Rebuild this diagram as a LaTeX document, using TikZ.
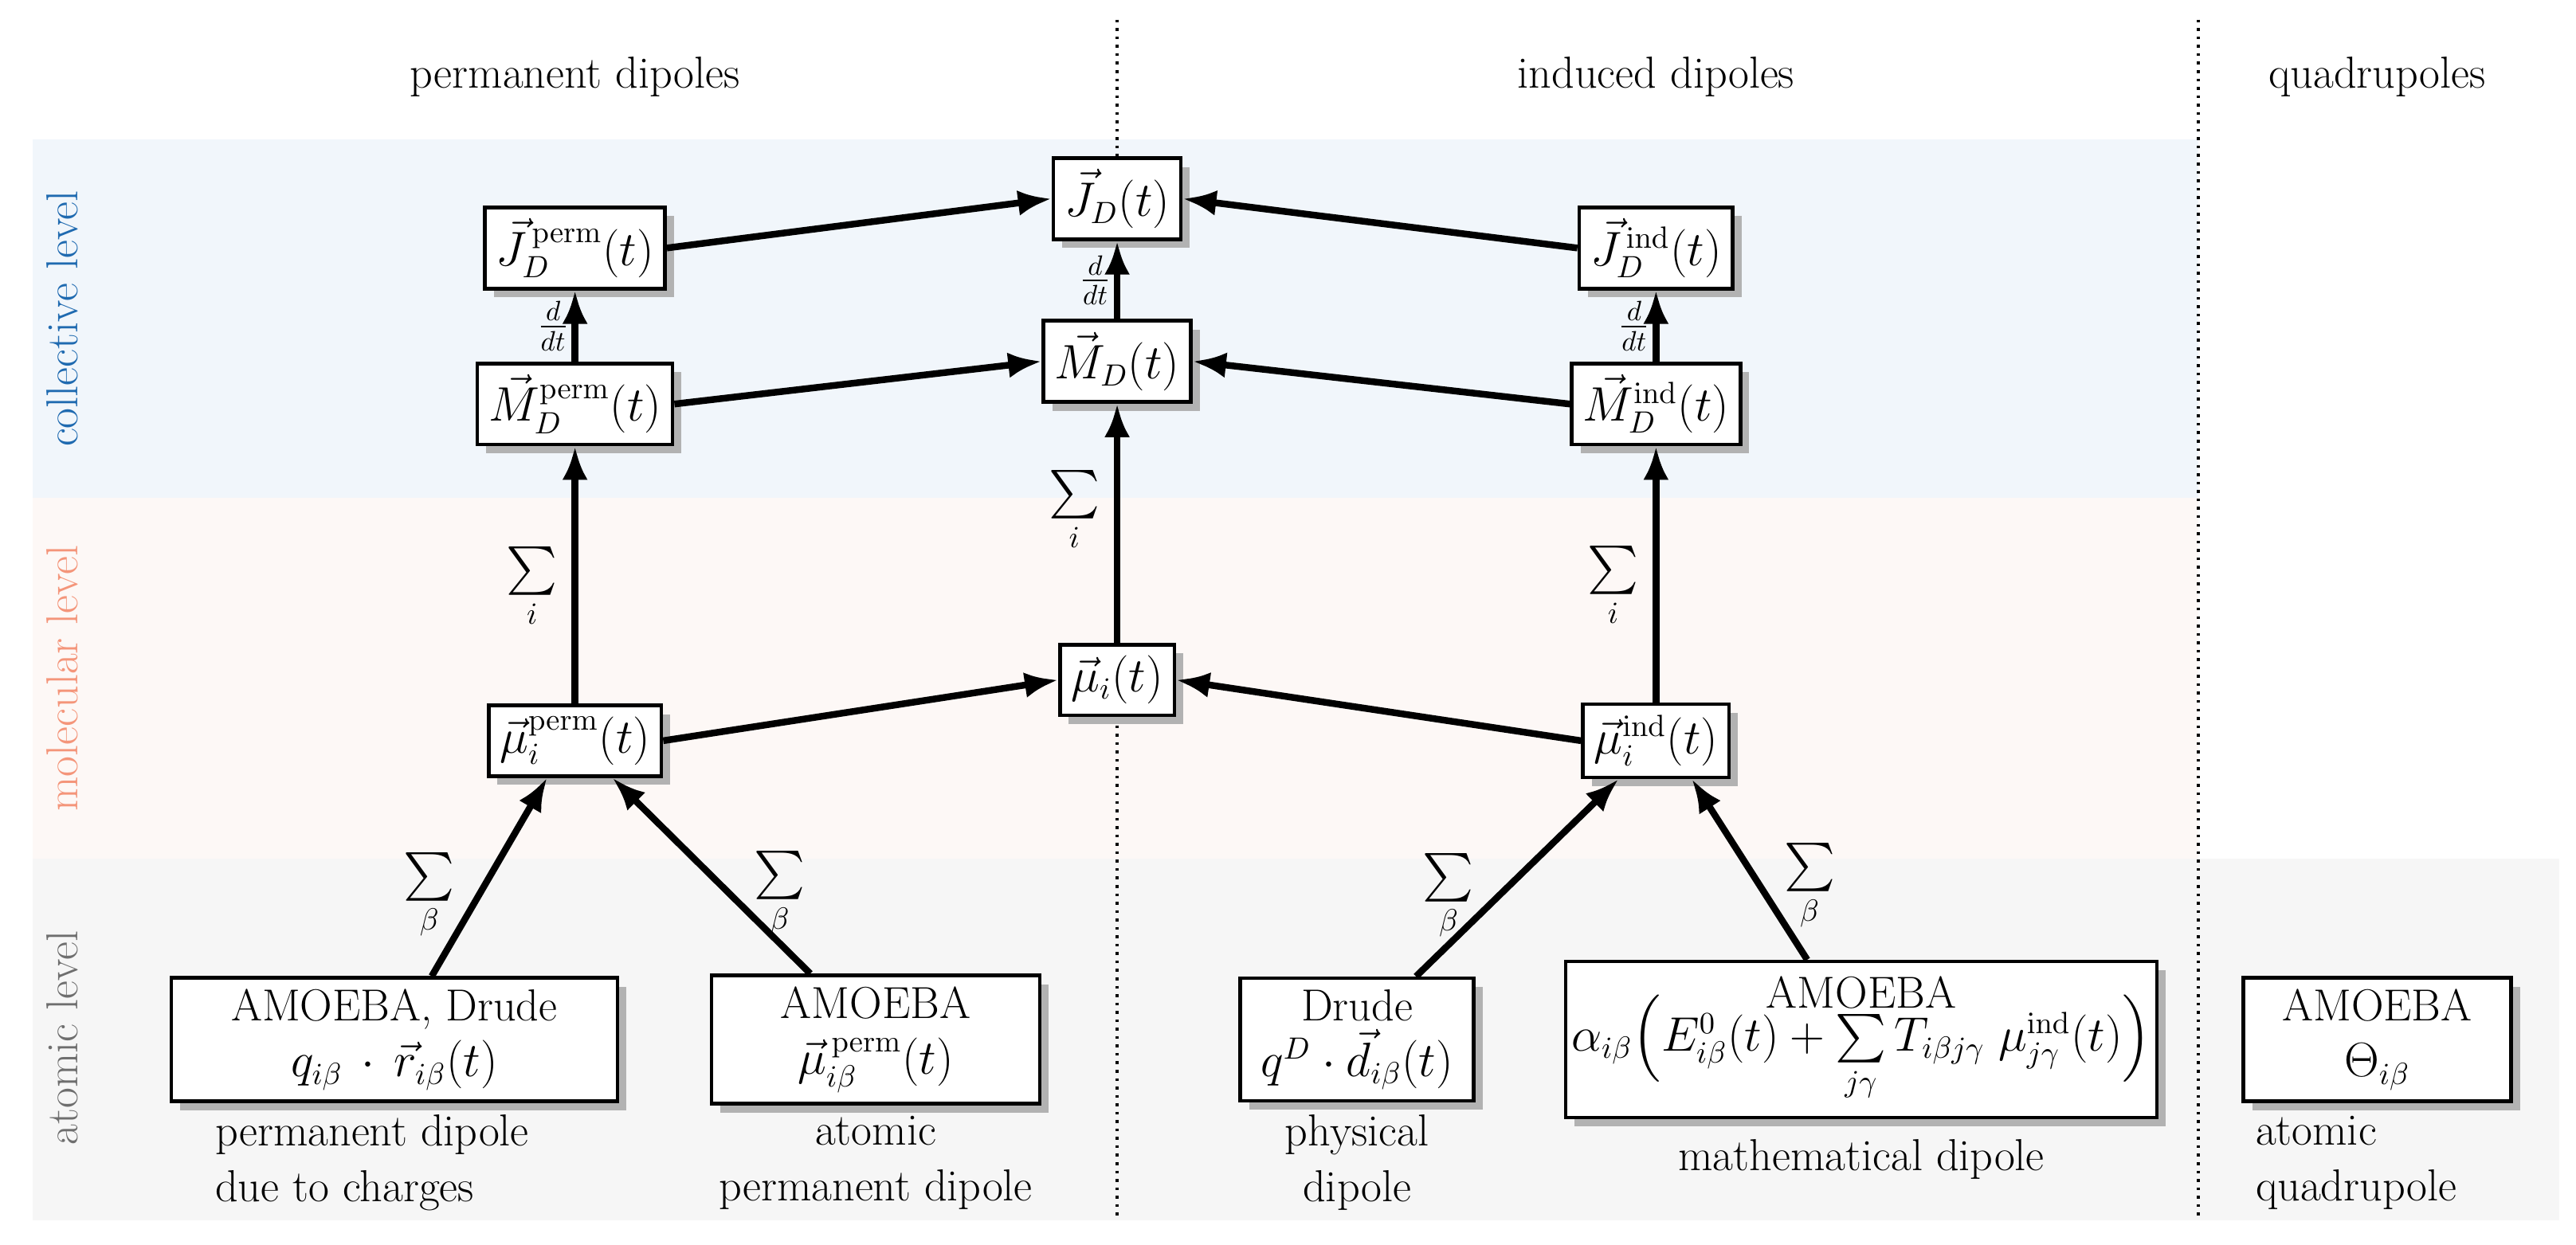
\documentclass[tikz,border=0pt]{standalone}
\usepackage{amsmath}
\usetikzlibrary{arrows.meta,shadows}
\definecolor{bandblue}{HTML}{F1F6FB}
\definecolor{bandpink}{HTML}{FDF8F6}
\definecolor{bandgray}{HTML}{F6F6F6}
\definecolor{lblblue}{HTML}{1F6AB0}
\definecolor{lblsalmon}{HTML}{F4957A}
\definecolor{lblgray}{HTML}{6E6E6E}
\begin{document}
\begin{tikzpicture}[x=0.02062cm,y=-0.02062cm,
  every node/.style={font=\fontsize{16pt}{20pt}\selectfont},
  box/.style={draw,line width=1.3pt,fill=white,align=center,inner sep=4pt,
    drop shadow={fill=black!30,opacity=1,shadow xshift=0.11cm,shadow yshift=-0.11cm}},
  arr/.style={line width=2.4pt,-{Latex[length=0.42cm,width=0.32cm]}},
  lbl/.style={inner sep=1pt},
  side/.style={rotate=90}]
\useasboundingbox (0,0) rectangle (1568,758);
\fill[bandblue] (20,85) rectangle (1338,303);
\fill[bandpink] (20,303) rectangle (1338,523);
\fill[bandgray] (20,523) rectangle (1558,743);
\draw[dotted,line width=1pt] (680,12) -- (680,743);
\draw[dotted,line width=1pt] (1338,12) -- (1338,743);
\node (h1) at (350,47) {permanent dipoles};
\node (h2) at (1008,47) {induced dipoles};
\node (h3) at (1447,47) {quadrupoles};
\node[side,text=lblblue] (s1) at (38,194) {collective level};
\node[side,text=lblsalmon] (s2) at (38,413) {molecular level};
\node[side,text=lblgray] (s3) at (38,632) {atomic level};
% nodes
\node[box] (JD) at (680,121) {$\vec J_D(t)$};
\node[box] (Jp) at (350,151) {$\vec J_D^{\,\mathrm{perm}}(t)$};
\node[box] (Ji) at (1008,151) {$\vec J_D^{\,\mathrm{ind}}(t)$};
\node[box] (MD) at (680,220) {$\vec M_D(t)$};
\node[box] (Mp) at (350,246) {$\vec M_D^{\mathrm{perm}}(t)$};
\node[box] (Mi) at (1008,246) {$\vec M_D^{\mathrm{ind}}(t)$};
\node[box] (mu) at (680,414) {$\vec \mu_i(t)$};
\node[box] (mup) at (350,451) {$\vec \mu_i^{\mathrm{perm}}(t)$};
\node[box] (mui) at (1008,451) {$\vec \mu_i^{\mathrm{ind}}(t)$};
\node[box,minimum width=5.6cm,minimum height=1.48cm] (A1) at (240,633) {AMOEBA, Drude\\$q_{i\beta}\,\cdot\,\vec r_{i\beta}(t)$};
\node[box,minimum width=4.12cm,minimum height=1.59cm] (A2) at (533,633) {AMOEBA\\$\vec\mu_{i\beta}^{\,\mathrm{perm}}(t)$};
\node[box,minimum width=2.93cm,minimum height=1.48cm] (A3) at (826,633) {Drude\\$q^D\cdot\vec d_{i\beta}(t)$};
\node[box,minimum width=7.42cm,minimum height=1.96cm,inner sep=2pt] (A4) at (1133,633) {AMOEBA\\[-6pt]$\alpha_{i\beta}\Bigl(E^0_{i\beta}(t)+\sum\limits_{j\gamma}T_{i\beta j\gamma}\;\mu^{\mathrm{ind}}_{j\gamma}(t)\Bigr)$};
\node[box,minimum width=3.36cm,minimum height=1.48cm] (A5) at (1447,633) {AMOEBA\\$\Theta_{i\beta}$};
% captions
\node[align=left,anchor=west] (c1) at (125,708) {permanent dipole\\due to charges};
\node[align=center] (c2) at (533,708) {atomic\\permanent dipole};
\node[align=center] (c3) at (826,708) {physical\\dipole};
\node (c4) at (1133,706) {mathematical dipole};
\node[align=left,anchor=west] (c5) at (1367,708) {atomic\\quadrupole};
% arrows
\draw[arr] (Jp.east) -- (JD.west);
\draw[arr] (Ji.west) -- (JD.east);
\draw[arr] (Mp.east) -- (MD.west);
\draw[arr] (Mi.west) -- (MD.east);
\draw[arr] (mup.east) -- (mu.west);
\draw[arr] (mui.west) -- (mu.east);
\draw[arr] (Mp) -- node[lbl,left,font=\fontsize{14pt}{16pt}\selectfont] {$\frac{d}{dt}$} (Jp);
\draw[arr] (MD) -- node[lbl,left,font=\fontsize{14pt}{16pt}\selectfont] {$\frac{d}{dt}$} (JD);
\draw[arr] (Mi) -- node[lbl,left,font=\fontsize{14pt}{16pt}\selectfont] {$\frac{d}{dt}$} (Ji);
\draw[arr] (mup) -- node[lbl,left,pos=0.45,xshift=-4pt] {$\sum\limits_i$} (Mp);
\draw[arr] (mu) -- node[lbl,left,pos=0.55,xshift=-4pt] {$\sum\limits_i$} (MD);
\draw[arr] (mui) -- node[lbl,left,pos=0.45,xshift=-4pt] {$\sum\limits_i$} (Mi);
\draw[arr] ([xshift=0.47cm]A1.north) -- node[lbl,left,pos=0.4,xshift=-6pt] {$\sum\limits_\beta$} ([xshift=-0.35cm]mup.south);
\draw[arr] ([xshift=-0.82cm]A2.north) -- node[lbl,right,pos=0.4,xshift=6pt] {$\sum\limits_\beta$} ([xshift=0.47cm]mup.south);
\draw[arr] ([xshift=0.74cm]A3.north) -- node[lbl,left,pos=0.4,xshift=-6pt] {$\sum\limits_\beta$} ([xshift=-0.47cm]mui.south);
\draw[arr] ([xshift=-0.68cm]A4.north) -- node[lbl,right,pos=0.4,xshift=6pt] {$\sum\limits_\beta$} ([xshift=0.45cm]mui.south);
\end{tikzpicture}
\end{document}
